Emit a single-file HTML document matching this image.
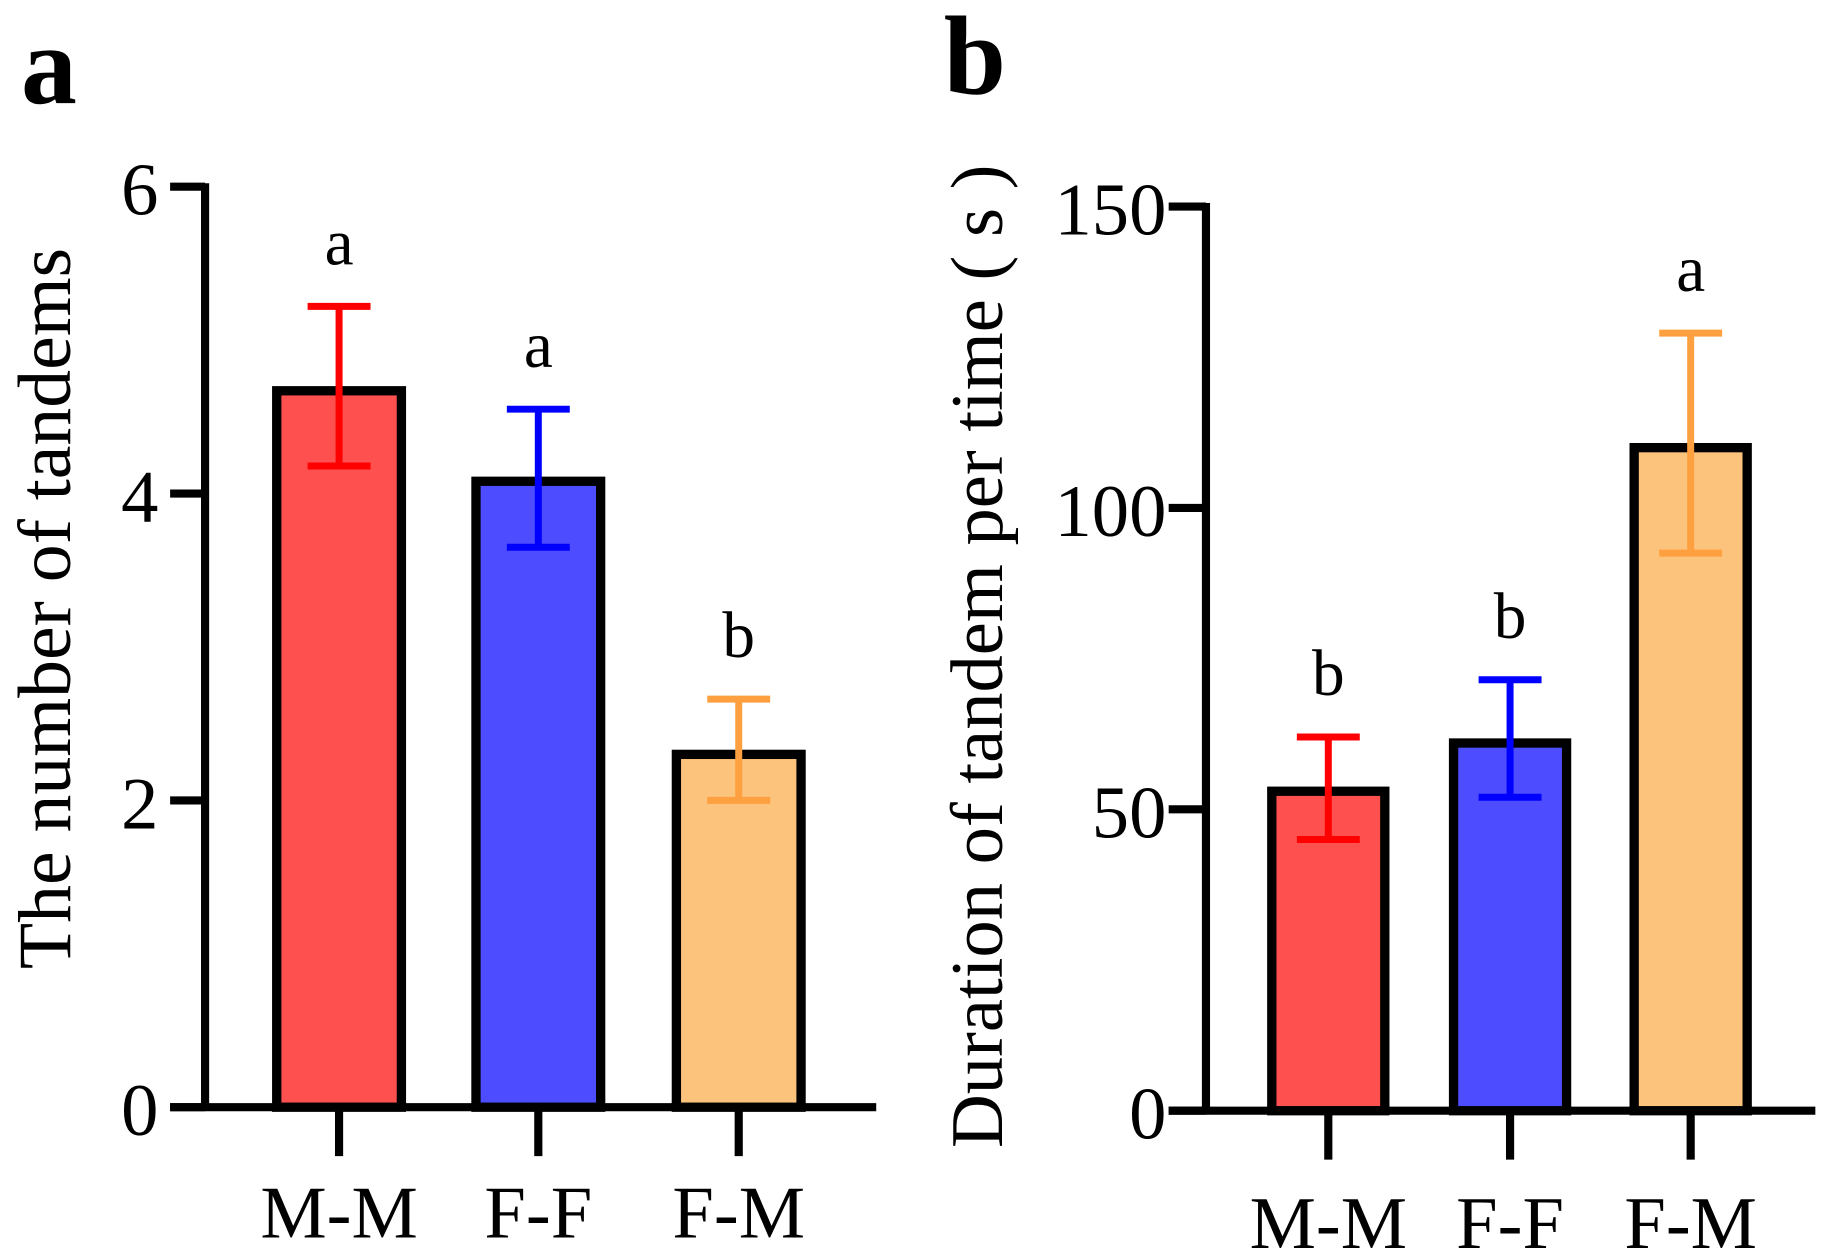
<!DOCTYPE html>
<html><head><meta charset="utf-8"><style>
html,body{margin:0;padding:0;background:#fff;width:1827px;height:1259px;overflow:hidden}
svg{display:block}
text{font-family:"Liberation Serif",serif;fill:#000}
</style></head><body>
<svg id="chart" width="1827" height="1259" viewBox="0 0 1568 1080" xmlns="http://www.w3.org/2000/svg">
<text x="18" y="88" font-size="96" font-weight="bold">a</text>
<text x="810" y="80" font-size="96" font-weight="bold">b</text>
<text transform="translate(60,522) rotate(-90)" text-anchor="middle" font-size="65">The number of tandems</text>
<text transform="translate(860,563) rotate(-90)" text-anchor="middle" font-size="64">Duration of tandem per time ( s )</text>
<g id="pa"></g><g id="pb"></g>
</svg>
<script>
const categories = ["M-M","F-F","F-M"];
const countMeans = [4.67, 4.08, 2.3];
const countLow = [4.18, 3.65, 2.0];
const countHigh = [5.22, 4.55, 2.66];
const countLetters = ["a","a","b"];
const countTicks = [0,2,4,6];
const durMeans = [53, 61, 110];
const durLow = [45, 52, 92.5];
const durHigh = [62, 71.5, 129];
const durLetters = ["b","b","a"];
const durTicks = [0,50,100,150];
const fills = ["#FF5050","#4D4DFF","#FCC37C"];
const errColors = ["#FF0000","#0000FF","#FFA040"];
const NS = "http://www.w3.org/2000/svg";
function mk(parent, tag, attrs){const e=document.createElementNS(NS,tag);for(const k in attrs)e.setAttribute(k,attrs[k]);parent.appendChild(e);return e;}
function panel(g, cfg, means, lows, highs, letters, ticks, pfx){
  const y = v => cfg.y0 - v / cfg.max * (cfg.y0 - cfg.yTop);
  const xs = cfg.centers;
  means.forEach((m,i)=>{
    const r = mk(g,'rect',{x:xs[i]-cfg.bw/2,y:y(m),width:cfg.bw,height:cfg.y0-y(m),fill:fills[i],stroke:'#000','stroke-width':8});
    
    
  });
  means.forEach((m,i)=>{
    const eg = mk(g,'g',{stroke:errColors[i],'stroke-width':6});
    
    
    mk(eg,'line',{x1:xs[i],x2:xs[i],y1:y(lows[i]),y2:y(highs[i])});
    mk(eg,'line',{x1:xs[i]-27,x2:xs[i]+27,y1:y(lows[i]),y2:y(lows[i])});
    mk(eg,'line',{x1:xs[i]-27,x2:xs[i]+27,y1:y(highs[i]),y2:y(highs[i])});
    const t = mk(g,'text',{x:xs[i],y:y(highs[i])-36,'text-anchor':'middle','font-size':56});
    t.textContent = letters[i];
    
    
  });
  const ax = mk(g,'g',{stroke:'#000','stroke-width':7,fill:'none'});
  
  
  mk(ax,'line',{x1:cfg.ax,x2:cfg.ax,y1:cfg.yTop-3,y2:cfg.y0+3});
  mk(ax,'line',{x1:cfg.ax-cfg.tl,x2:cfg.xEnd,y1:cfg.y0,y2:cfg.y0});
  ticks.forEach(v=>{
    mk(ax,'line',{x1:cfg.ax-cfg.tl,x2:cfg.ax,y1:y(v),y2:y(v)});
    const t = mk(g,'text',{x:cfg.ax-cfg.lo,y:y(v)+24,'text-anchor':'end','font-size':64});
    t.textContent = v;
    
    
  });
  categories.forEach((c,i)=>{
    mk(ax,'line',{x1:xs[i],x2:xs[i],y1:cfg.y0,y2:cfg.y0+42});
    const t = mk(g,'text',{x:xs[i],y:cfg.y0+cfg.xl,'text-anchor':'middle','font-size':64});
    t.textContent = c;
    
    
  });
}
panel(document.getElementById('pa'),{y0:950,yTop:160,max:6,ax:176,xEnd:752,bw:107,tl:30,lo:40,xl:112,centers:[291,462,634]},countMeans,countLow,countHigh,countLetters,countTicks,'a');
panel(document.getElementById('pb'),{y0:953,yTop:177,max:150,ax:1035,xEnd:1558,bw:97,tl:32,lo:34,xl:118,centers:[1140,1296,1451]},durMeans,durLow,durHigh,durLetters,durTicks,'b');
</script>
</body></html>
